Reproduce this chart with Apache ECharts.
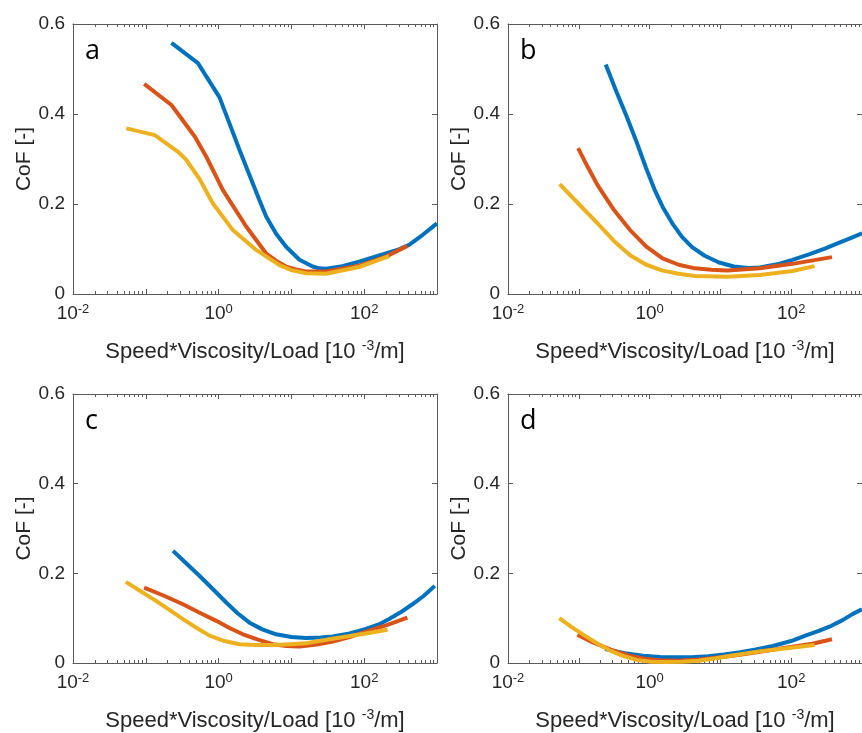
<!DOCTYPE html>
<html><head><meta charset="utf-8">
<script src="https://cdn.jsdelivr.net/npm/echarts@6/dist/echarts.min.js"></script>
<style>html,body{margin:0;padding:0;background:#fff}#c{width:862px;height:733px}</style>
</head><body><div id="c"></div>
<script>
// ---------- data (x: Speed*Viscosity/Load, y: CoF) ----------
const aBlueX = [0.225, 0.52, 1.03, 1.94, 3.63, 4.5, 6.17, 8.45, 12.9, 19.6, 24, 30, 50, 85, 198, 300, 413, 631, 1000];
const aBlueY = [0.558, 0.513, 0.437, 0.32, 0.209, 0.172, 0.134, 0.105, 0.076, 0.061, 0.057, 0.056, 0.062, 0.072, 0.09, 0.099, 0.109, 0.131, 0.157];
const aRedX = [0.095, 0.225, 0.47, 0.678, 1.146, 2.393, 4.5, 6.3, 8.45, 11.2, 15.85, 30, 85, 198, 392];
const aRedY = [0.467, 0.42, 0.35, 0.305, 0.231, 0.15, 0.09, 0.073, 0.061, 0.055, 0.05, 0.05, 0.063, 0.083, 0.107];
const aYellowX = [0.054, 0.133, 0.277, 0.36, 0.55, 0.836, 1.57, 3.28, 6.85, 10, 15.85, 30, 85, 220];
const aYellowY = [0.368, 0.353, 0.316, 0.298, 0.255, 0.201, 0.142, 0.098, 0.064, 0.053, 0.046, 0.045, 0.06, 0.084];

const bBlueX = [0.24, 0.339, 0.476, 0.661, 0.891, 1.175, 1.524, 2.09, 2.87, 3.98, 6.0, 9.55, 15.5, 25.1, 36.1, 63.1, 104, 177.8, 298.5, 478.6, 733, 1000];
const bBlueY = [0.51, 0.45, 0.394, 0.336, 0.28, 0.232, 0.194, 0.157, 0.127, 0.104, 0.085, 0.07, 0.061, 0.058, 0.059, 0.066, 0.076, 0.088, 0.101, 0.114, 0.126, 0.135];
const bRedX = [0.0977, 0.135, 0.184, 0.316, 0.53, 0.891, 1.524, 2.57, 4.375, 7.41, 12.6, 36.1, 104, 376.7];
const bRedY = [0.324, 0.281, 0.242, 0.186, 0.142, 0.106, 0.079, 0.065, 0.057, 0.054, 0.052, 0.057, 0.067, 0.082];
const bYellowX = [0.0537, 0.1, 0.184, 0.313, 0.53, 0.897, 1.524, 2.57, 4.375, 12.6, 36.1, 104, 214];
const bYellowY = [0.244, 0.2, 0.157, 0.118, 0.086, 0.065, 0.052, 0.045, 0.04, 0.0385, 0.042, 0.051, 0.062];

const cBlueX = [0.2366, 0.355, 0.55, 0.832, 1.274, 1.82, 2.66, 3.98, 6.17, 10, 15.85, 25.1, 36.8, 63.1, 105.4, 158.5, 220, 316, 459, 661, 933];
const cBlueY = [0.25, 0.223, 0.194, 0.165, 0.135, 0.111, 0.09, 0.075, 0.064, 0.058, 0.056, 0.057, 0.059, 0.066, 0.076, 0.086, 0.098, 0.113, 0.131, 0.15, 0.172];
const cRedX = [0.0948, 0.178, 0.324, 0.55, 0.929, 1.413, 2.153, 3.47, 5.55, 8.51, 12.9, 22.4, 36.8, 63.1, 105.4, 199.5, 391.7];
const cRedY = [0.168, 0.15, 0.131, 0.112, 0.094, 0.078, 0.064, 0.052, 0.042, 0.038, 0.037, 0.041, 0.048, 0.058, 0.07, 0.084, 0.101];
const cYellowX = [0.0532, 0.0871, 0.14, 0.214, 0.324, 0.501, 0.753, 1.202, 1.94, 3.16, 5.55, 10, 15.85, 36.8, 105.4, 209];
const cYellowY = [0.181, 0.159, 0.138, 0.118, 0.098, 0.078, 0.061, 0.049, 0.042, 0.04, 0.04, 0.042, 0.044, 0.054, 0.066, 0.074];

const dBlueX = [0.234, 0.447, 0.809, 1.413, 2.323, 3.98, 6.67, 11.2, 19.05, 31.6, 55, 100, 158.5, 251, 369, 525, 733, 1000];
const dBlueY = [0.031, 0.022, 0.016, 0.0135, 0.0126, 0.013, 0.015, 0.019, 0.024, 0.03, 0.038, 0.049, 0.061, 0.072, 0.083, 0.095, 0.109, 0.12];
const dRedX = [0.0955, 0.158, 0.282, 0.501, 0.891, 1.371, 2.51, 5.01, 10, 17.8, 32.4, 93.3, 199.5, 376.7];
const dRedY = [0.063, 0.046, 0.03, 0.017, 0.009, 0.006, 0.005, 0.008, 0.013, 0.018, 0.024, 0.035, 0.043, 0.053];
const dYellowX = [0.0531, 0.0794, 0.1208, 0.186, 0.282, 0.437, 0.655, 1.047, 1.69, 2.82, 4.85, 8.32, 13.96, 39.8, 100, 214];
const dYellowY = [0.1, 0.08, 0.061, 0.043, 0.027, 0.015, 0.007, 0.003, 0.002, 0.003, 0.005, 0.01, 0.016, 0.027, 0.034, 0.04];

const panelLetters = ['a', 'b', 'c', 'd'];
const xMajorTicks = [0.01, 0.1, 1, 10, 100, 1000];
const xLabelTicks = [0.01, 1, 100];
const xMinorTicks = [0.02,0.03,0.04,0.05,0.06,0.07,0.08,0.09,
  0.2,0.3,0.4,0.5,0.6,0.7,0.8,0.9, 2,3,4,5,6,7,8,9,
  20,30,40,50,60,70,80,90, 200,300,400,500,600,700,800,900];
const yTickLabels = ['0', '0.2', '0.4', '0.6'];
const xAxisTitle = ['Speed*Viscosity/Load [10 ', '-3', '/m]'];
const yAxisTitle = 'CoF [-]';
const seriesColors = ['#0072BD', '#D95319', '#EDB120'];

const panelData = [
  [[aBlueX, aBlueY], [aRedX, aRedY], [aYellowX, aYellowY]],
  [[bBlueX, bBlueY], [bRedX, bRedY], [bYellowX, bYellowY]],
  [[cBlueX, cBlueY], [cRedX, cRedY], [cYellowX, cYellowY]],
  [[dBlueX, dBlueY], [dRedX, dRedY], [dYellowX, dYellowY]]
];

// ---------- layout ----------
const gridPos = [[73, 24], [508, 24], [73, 394], [508, 394]];
const GW = 364, GH = 270;
const axisCol = '#5a5a5a';
const txtCol = '#262626';
const FONT = 'Liberation Sans';

const grids = [], xAxes = [], yAxes = [], series = [], titles = [];
const lineSt = {color: axisCol, width: 1};

gridPos.forEach((p, i) => {
  grids.push({left: p[0], top: p[1], width: GW, height: GH, containLabel: false});
  const base = {type: 'log', logBase: 10, min: 0.01, max: 1000, gridIndex: i, splitLine: {show: false}, minorTick: {show: false}};
  xAxes.push(Object.assign({}, base, {
    position: 'bottom',
    axisLine: {show: true, onZero: false, lineStyle: lineSt},
    axisTick: {show: true, inside: true, length: 5, customValues: xMajorTicks, lineStyle: lineSt},
    axisLabel: {
      show: true, customValues: xLabelTicks, margin: 9,
      formatter: v => '{b|10}{s|' + Math.round(Math.log10(v)) + '}',
      rich: {
        b: {fontSize: 19, fontFamily: FONT, color: txtCol, lineHeight: 22},
        s: {fontSize: 13, fontFamily: FONT, color: txtCol, lineHeight: 12, verticalAlign: 'top'}
      }
    },
    name: '{n|' + xAxisTitle[0] + '}{s|' + xAxisTitle[1] + '}{n|' + xAxisTitle[2] + '}',
    nameLocation: 'middle', nameGap: 45,
    nameTextStyle: {
      rich: {
        n: {fontSize: 22, fontFamily: FONT, color: txtCol, lineHeight: 26},
        s: {fontSize: 14, fontFamily: FONT, color: txtCol, lineHeight: 14, verticalAlign: 'top'}
      }
    }
  }));
  xAxes.push(Object.assign({}, base, {
    position: 'bottom',
    axisLine: {show: false, onZero: false},
    axisTick: {show: true, inside: true, length: 3, customValues: xMinorTicks, lineStyle: lineSt},
    axisLabel: {show: false, customValues: xMinorTicks}
  }));
  xAxes.push(Object.assign({}, base, {
    position: 'top',
    axisLine: {show: true, onZero: false, lineStyle: lineSt},
    axisTick: {show: true, inside: true, length: 5, customValues: xMajorTicks, lineStyle: lineSt},
    axisLabel: {show: false, customValues: xMajorTicks}
  }));
  xAxes.push(Object.assign({}, base, {
    position: 'top',
    axisLine: {show: false, onZero: false},
    axisTick: {show: true, inside: true, length: 3, customValues: xMinorTicks, lineStyle: lineSt},
    axisLabel: {show: false, customValues: xMinorTicks}
  }));
  yAxes.push({
    type: 'value', gridIndex: i, min: 0, max: 0.6, interval: 0.2, position: 'left',
    axisLine: {show: true, onZero: false, lineStyle: lineSt},
    axisTick: {show: true, inside: true, length: 5, lineStyle: lineSt},
    splitLine: {show: false},
    axisLabel: {margin: 8, fontSize: 19, fontFamily: FONT, color: txtCol,
      formatter: v => yTickLabels[Math.round(v / 0.2)]},
    name: yAxisTitle, nameLocation: 'middle', nameGap: 37, nameRotate: 90,
    nameTextStyle: {fontSize: 21, fontFamily: FONT, color: txtCol}
  });
  yAxes.push({
    type: 'value', gridIndex: i, min: 0, max: 0.6, interval: 0.2, position: 'right',
    axisLine: {show: true, onZero: false, lineStyle: lineSt},
    axisTick: {show: true, inside: true, length: 5, lineStyle: lineSt},
    splitLine: {show: false}, axisLabel: {show: false}
  });
  panelData[i].forEach((s, k) => {
    series.push({
      type: 'line', xAxisIndex: i * 4, yAxisIndex: i * 2,
      data: s[0].map((x, j) => [x, s[1][j]]),
      showSymbol: false, symbol: 'none', smooth: false,
      lineStyle: {color: seriesColors[k], width: 4, cap: 'butt', join: 'round'},
      itemStyle: {color: seriesColors[k]},
      z: 2 + k, silent: true, animation: false, clip: true
    });
  });
  titles.push({
    text: panelLetters[i], left: p[0] + 12, top: p[1] + 14, padding: 0,
    textStyle: {fontSize: 27, fontWeight: 'normal', color: '#000', fontFamily: 'Open Sans'}
  });
});

const chart = echarts.init(document.getElementById('c'), null, {renderer: 'canvas'});
chart.setOption({
  backgroundColor: '#fff',
  animation: false,
  title: titles,
  grid: grids,
  xAxis: xAxes,
  yAxis: yAxes,
  series: series
});
</script>
</body></html>
